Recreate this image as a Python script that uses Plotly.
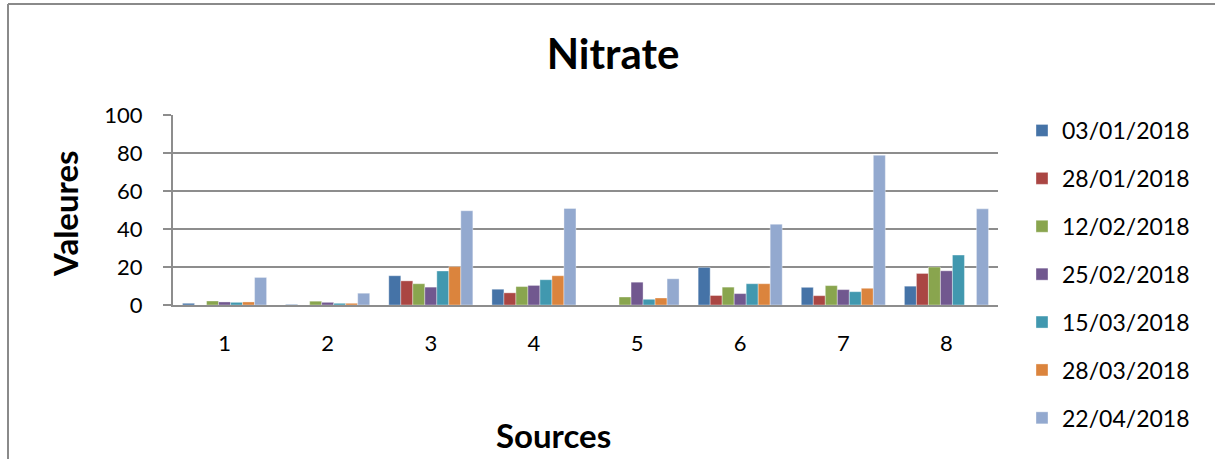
import plotly.graph_objects as go

# Nitrate concentrations per source, one series per sampling date
sources = ["1", "2", "3", "4", "5", "6", "7", "8"]
dates = ["03/01/2018", "28/01/2018", "12/02/2018", "25/02/2018",
         "15/03/2018", "28/03/2018", "22/04/2018"]

s_03_01 = [0.9, 0.3, 15.4, 8.3, 0.0, 19.8, 9.3, 9.9]
s_28_01 = [0.0, 0.0, 12.7, 6.4, 0.0, 5.0, 4.9, 16.6]
s_12_02 = [2.1, 2.0, 11.2, 9.7, 4.2, 9.4, 10.2, 20.0]
s_25_02 = [1.6, 1.4, 9.4, 10.3, 12.0, 6.0, 8.1, 18.0]
s_15_03 = [1.4, 0.9, 17.9, 13.3, 3.0, 11.2, 7.0, 26.3]
s_28_03 = [1.6, 0.9, 20.2, 15.4, 3.7, 11.2, 8.8, 0.0]
s_22_04 = [14.5, 6.2, 49.6, 50.8, 13.8, 42.5, 78.8, 50.6]

series = [s_03_01, s_28_01, s_12_02, s_25_02, s_15_03, s_28_03, s_22_04]
colors = ["#4573A7", "#AA4643", "#89A54E", "#71588F",
          "#4198AF", "#DB843D", "#93A9CF"]

y_ticks = [0, 20, 40, 60, 80, 100]

W, H = 1215, 459
L, R, T, B = 173, 998, 115, 305  # plot area in pixels
FONT = "Lato, 'Liberation Sans', sans-serif"


def px(x):
    return (x - L) / (R - L)


def py(y):
    return (B - y) / (B - T)


fig = go.Figure()
for name, vals, col in zip(dates, series, colors):
    fig.add_trace(go.Bar(
        x=sources, y=vals, name=name, legendgroup=name,
        marker=dict(color=col, line=dict(color="rgba(255,255,255,0.6)", width=0.6)),
    ))

fig.update_layout(
    width=W, height=H,
    margin=dict(l=L, r=W - R, t=T, b=H - B, pad=0),
    paper_bgcolor="white", plot_bgcolor="white",
    barmode="group", bargap=0.185, bargroupgap=0,
    font=dict(family=FONT, color="black", size=22),
    title=dict(text="<b>Nitrate</b>", x=613 / W, xanchor="center",
               y=1 - 54 / H, yanchor="middle", yref="container",
               font=dict(size=42, family=FONT, color="black")),
    showlegend=True,
    legend=dict(x=px(1022), xanchor="left", y=py(109), yanchor="top",
                font=dict(size=23, family=FONT, color="black"),
                tracegroupgap=15, traceorder="grouped", maxheight=420,
                bgcolor="rgba(0,0,0,0)", itemclick=False),
    xaxis=dict(showgrid=False, showline=True, linecolor="#8d8d8d", linewidth=2,
               ticks="", ticklabelstandoff=18, tickfont=dict(size=22),
               fixedrange=True),
    yaxis=dict(range=[0, 100], tickvals=y_ticks, showgrid=True,
               gridcolor="#8d8d8d", gridwidth=2, showline=True,
               linecolor="#8d8d8d", linewidth=2, ticks="outside", ticklen=8,
               tickcolor="#8d8d8d", tickwidth=2, ticklabelstandoff=16,
               tickfont=dict(size=22), zeroline=False, fixedrange=True),
    annotations=[
        dict(text="<b>Valeures</b>", x=px(65), y=py(213), xref="paper", yref="paper",
             textangle=-90, showarrow=False, font=dict(size=33, family=FONT),
             xanchor="center", yanchor="middle"),
        dict(text="<b>Sources</b>", x=px(553), y=py(435), xref="paper", yref="paper",
             showarrow=False, font=dict(size=33, family=FONT),
             xanchor="center", yanchor="middle"),
    ],
    shapes=[
        # chart frame: left and top edges
        dict(type="line", xref="paper", yref="paper",
             x0=px(8), x1=px(8), y0=py(4), y1=py(470),
             line=dict(color="#8a8a8a", width=2)),
        dict(type="line", xref="paper", yref="paper",
             x0=px(8), x1=px(1230), y0=py(4), y1=py(4),
             line=dict(color="#8a8a8a", width=2)),
    ],
)

fig.write_html("out.html", config={"displayModeBar": False})
